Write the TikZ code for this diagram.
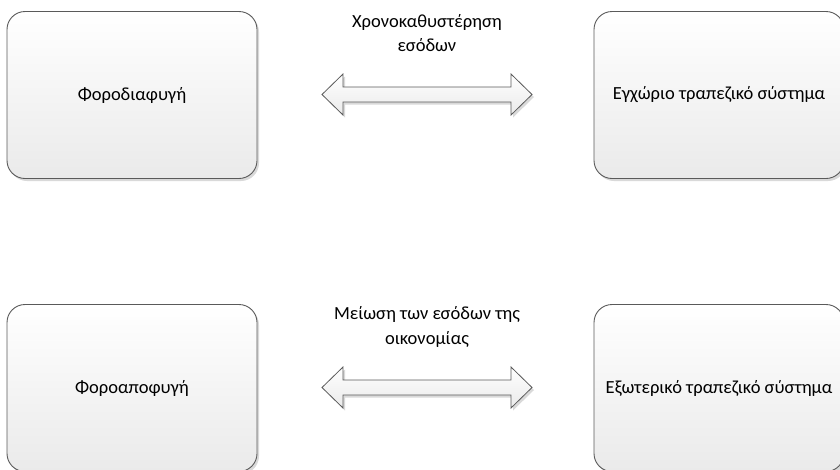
\documentclass[tikz,border=0pt]{standalone}
\usepackage{fontspec}
\setmainfont{Carlito}
\usetikzlibrary{shadows}
\definecolor{edge}{HTML}{5A5A5A}
\definecolor{paleend}{HTML}{EAEAEA}
\begin{document}
\begin{tikzpicture}[x=1pt,y=-1pt,
  box/.style={rounded corners=18pt, draw=edge, line width=0.9pt,
    top color=white, bottom color=paleend,
    minimum width=250pt, minimum height=167pt, inner sep=0pt,
    font=\fontsize{18.5}{22}\selectfont,
    drop shadow={shadow xshift=2pt, shadow yshift=-2.5pt, fill=black, opacity=0.15}},
  dblarrow/.style={draw=edge, line width=0.8pt, line join=miter,
    top color=white, bottom color=paleend,
    drop shadow={shadow xshift=2pt, shadow yshift=-2.5pt, fill=black, opacity=0.15}},
  caption/.style={align=center, inner sep=0pt, font=\fontsize{18.5}{24.5}\selectfont},
  twoway/.pic={
    \path[dblarrow] (-105,0) -- (-84,-20.5) -- (-84,-7.5) -- (84,-7.5)
      -- (84,-20.5) -- (105,0) -- (84,20.5) -- (84,7.5) -- (-84,7.5)
      -- (-84,20.5) -- cycle;
  }]
\useasboundingbox (0,0) rectangle (840,469);
\clip (0,0) rectangle (840,469);

% upper row
\node[box] (evasion) at (132,95) {Φοροδιαφυγή};
\node[box] (domestic) at (719,95) {Εγχώριο τραπεζικό σύστημα};
\pic (link1) at (427,94.5) {twoway};
\node[caption] (lab1) at (427,33) {Χρονοκαθυστέρηση\\εσόδων};

% lower row
\node[box] (avoidance) at (132,388) {Φοροαποφυγή};
\node[box] (foreign) at (719,388) {Εξωτερικό τραπεζικό σύστημα};
\pic (link2) at (427,387.5) {twoway};
\node[caption] (lab2) at (427,327) {Μείωση των εσόδων της\\οικονομίας};
\end{tikzpicture}
\end{document}
